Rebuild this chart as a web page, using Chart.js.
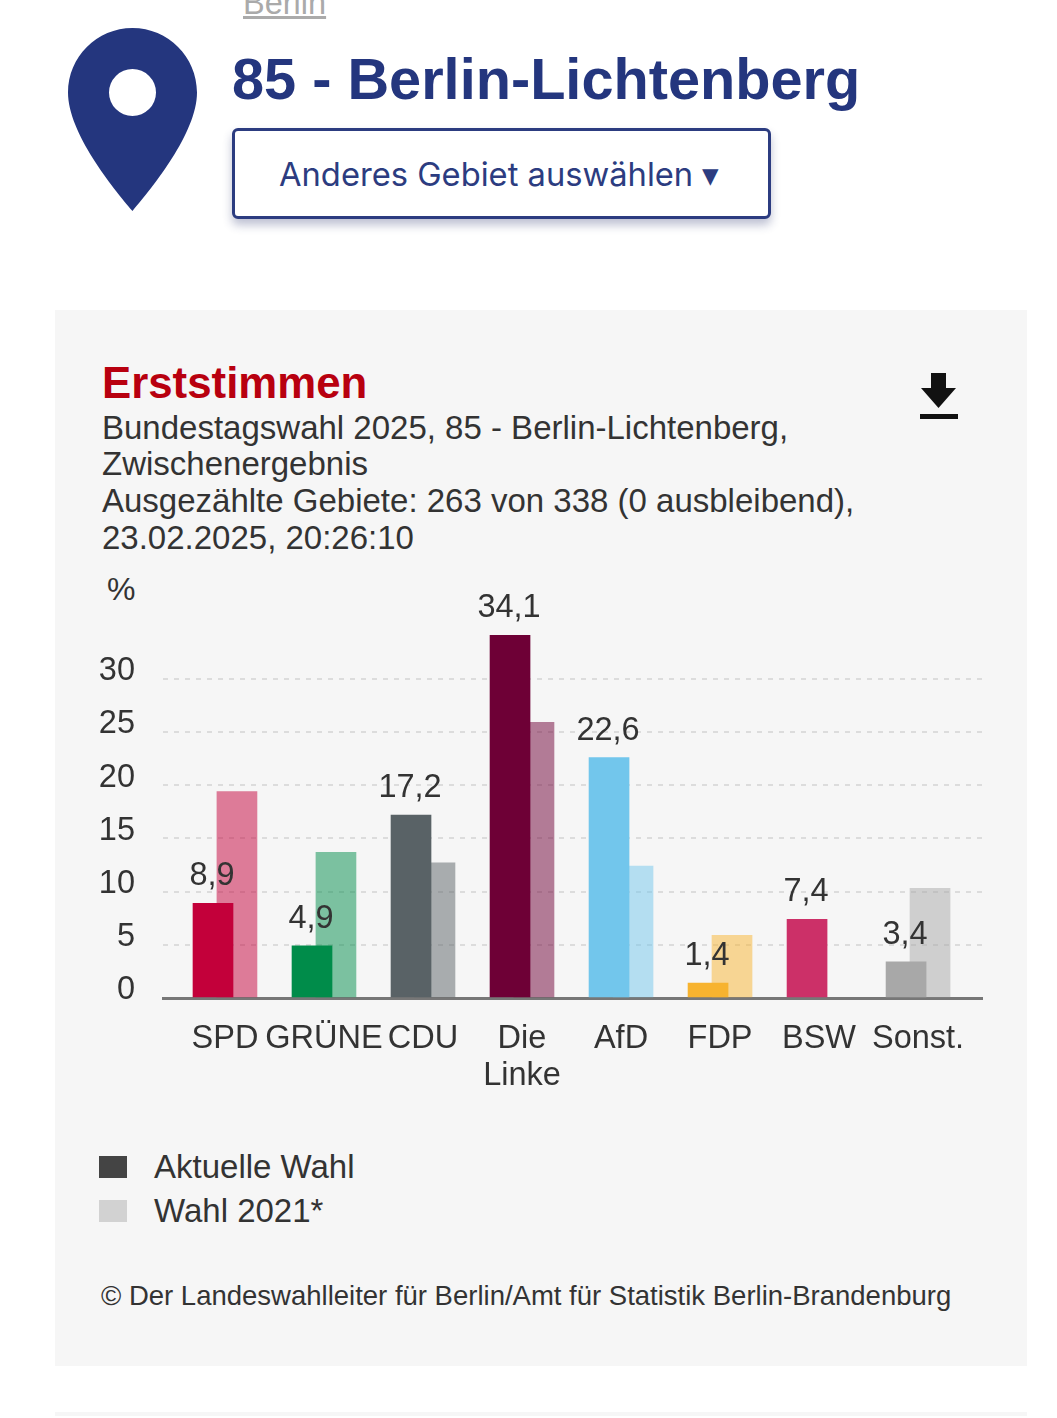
<!DOCTYPE html>
<html lang="de">
<head>
    <meta charset="UTF-8">
    <title>Erststimmen</title>
    <style>
        html, body { margin: 0; padding: 0; background: #fff; }
        body { width: 1057px; height: 1418px; position: relative; overflow: hidden; font-family: "Liberation Sans", Arial, sans-serif; color: #333; }
        .abs { position: absolute; white-space: nowrap; }
        #card { position: absolute; left: 55px; top: 310px; width: 972px; height: 1056px; background: #f6f6f6; }
        #bottomLine { position: absolute; left: 55px; top: 1412px; width: 972px; height: 4px; background: #f6f6f6; }
        #btn { position: absolute; left: 232px; top: 128px; width: 533px; height: 85px; border: 3px solid #2c3c80; border-radius: 6px; background: #fff; box-shadow: 0 6px 10px rgba(40,50,110,.3); }
        #chartBox { position: absolute; left: 0; top: 560px; width: 1057px; height: 540px; }
        .sub { font-size: 33px; line-height: 37px; left: 102px; color: #333; }
        .leg { position: absolute; left: 99px; width: 28px; height: 22px; }
    </style>
</head>
<body>
    <div id="card"></div>
    <div id="bottomLine"></div>

    <div class="abs" style="left:243px; top:-14px; font-size:32.5px; line-height:34px; color:#aaa; text-decoration:underline;">Berlin</div>

    <svg class="abs" style="left:68px; top:28px;" width="129" height="183" viewBox="0 0 129 183">
        <path fill-rule="evenodd" fill="#24367e" d="M64.5 0C28.9 0 0 28.9 0 64.500C0 105 45 160 64.500 183C84 160 129 105 129 64.500C129 28.900 100.100 0 64.500 0Z M64.500 41a23.500 23.500 0 1 0 0 47a23.500 23.500 0 1 0 0-47Z"/>
    </svg>

    <div class="abs" style="left:232px; top:46px; font-size:57.7px; line-height:66px; font-weight:bold; color:#24367e;">85 - Berlin-Lichtenberg</div>

    <div id="btn"></div>
    <div class="abs" style="left:279px; top:154px; font-family:Inter, sans-serif; font-size:32.7px; line-height:40px; color:#2c3c80;">Anderes Gebiet auswählen ▾</div>

    <div class="abs" style="left:102px; top:358px; font-size:43.8px; line-height:50px; font-weight:bold; color:#b8000f;">Erststimmen</div>
    <div class="abs sub" style="top:409px;">Bundestagswahl 2025, 85 - Berlin-Lichtenberg,</div>
    <div class="abs sub" style="top:445px;">Zwischenergebnis</div>
    <div class="abs sub" style="top:482px;">Ausgezählte Gebiete: 263 von 338 (0 ausbleibend),</div>
    <div class="abs sub" style="top:519px;">23.02.2025, 20:26:10</div>

    <svg class="abs" style="left:918px; top:372px;" width="42" height="50" viewBox="0 0 42 50">
        <path fill="#111" d="M13 1h15v15h10L20.500 36 3 16h10Z"/>
        <rect x="2" y="42" width="38" height="5" fill="#111"/>
    </svg>

    <div class="abs" style="left:107px; top:571px; font-size:32px; line-height:37px;">%</div>

    <div id="chartBox"><canvas id="myChart"></canvas></div>

    <div class="leg" style="top:1156px; background:#444;"></div>
    <div class="abs" style="left:154px; top:1148px; font-size:33px; line-height:37px;">Aktuelle Wahl</div>
    <div class="leg" style="top:1200px; background:#d2d2d2;"></div>
    <div class="abs" style="left:154px; top:1192px; font-size:33px; line-height:37px;">Wahl 2021*</div>

    <div class="abs" style="left:101px; top:1279px; font-size:27.5px; line-height:33px;">© Der Landeswahlleiter für Berlin/Amt für Statistik Berlin-Brandenburg</div>

    <script src="https://cdn.jsdelivr.net/npm/chart.js"></script>

    <script>
        const categories = ['SPD', 'GRÜNE', 'CDU', ['Die', 'Linke'], 'AfD', 'FDP', 'BSW', 'Sonst.'];
        const current = [8.9, 4.9, 17.2, 34.1, 22.6, 1.4, 7.4, 3.4];
        const previous = [19.4, 13.7, 12.7, 25.9, 12.4, 5.9, null, 10.3];
        const yTicks = [0, 5, 10, 15, 20, 25, 30];

        const colors = ['#c3003a', '#008c4a', '#596266', '#6e0036', '#72c6ec', '#f7b32f', '#cc3068', '#a8a8a8'];
        const prevColors = colors.map(c => c + '80');

        // the bars of one party overlap, so they sit either side of the label
        const shift = 0.121;

        // writes the value above each bar of the current election
        const valueLabels = {
            id: 'valueLabels',
            afterDatasetsDraw(chart) {
                const ctx = chart.ctx;
                const bars = chart.getDatasetMeta(0).data;
                ctx.save();
                ctx.font = '32.5px "Liberation Sans", Arial, sans-serif';
                ctx.fillStyle = '#333';
                ctx.textAlign = 'center';
                ctx.textBaseline = 'middle';
                for (let i = 0; i < bars.length; i++) {
                    let text = String(current[i]).replace('.', ',');
                    ctx.fillText(text, bars[i].x - 1, bars[i].y - 27);
                }
                ctx.restore();
            }
        };

        const ctx = document.getElementById('myChart');

        let chart = new Chart(ctx, {
            type: 'bar',
            data: {
                datasets: [
                    {
                        label: 'Aktuelle Wahl',
                        data: current.map((v, i) => ({ x: i - shift, y: v })),
                        backgroundColor: colors,
                        barThickness: 40,
                        grouped: false,
                    },
                    {
                        label: 'Wahl 2021*',
                        data: previous.map((v, i) => ({ x: i + shift, y: v })),
                        backgroundColor: prevColors,
                        barThickness: 40,
                        grouped: false,
                    },
                ],
            },
            plugins: [valueLabels],
            options: {
                responsive: true,
                maintainAspectRatio: false,
                animation: false,
                layout: { padding: { top: 55, right: 75, left: 60, bottom: 0 } },
                plugins: {
                    legend: { display: false },
                    tooltip: { enabled: false },
                },
                scales: {
                    x: {
                        type: 'linear',
                        offset: false,
                        min: -0.626,
                        max: 7.646,
                        afterBuildTicks: s => { s.ticks = categories.map((c, i) => ({ value: i })); },
                        afterFit: s => { s.height = 102; },
                        grid: { display: false },
                        border: { display: true, color: '#777', width: 3 },
                        ticks: {
                            autoSkip: false,
                            maxRotation: 0,
                            padding: 15,
                            color: '#333',
                            font: { family: '"Liberation Sans", Arial, sans-serif', size: 32.500, lineHeight: 37 / 32.500 },
                            callback: v => categories[v],
                        },
                    },
                    y: {
                        min: 0,
                        max: 36,
                        afterBuildTicks: s => { s.ticks = yTicks.map(v => ({ value: v })); },
                        afterFit: s => { s.width = 103; },
                        grid: { drawTicks: false, color: '#dcdcdc', lineWidth: 2 },
                        border: { display: false, dash: [5, 6] },
                        ticks: {
                            padding: 28,
                            color: '#333',
                            font: { family: '"Liberation Sans", Arial, sans-serif', size: 32.500, lineHeight: 15 / 32.500 },
                            // empty second line lifts the number off its grid line
                            callback: v => [String(v), ''],
                        },
                    },
                },
            },
        });
    </script>
</body>
</html>
